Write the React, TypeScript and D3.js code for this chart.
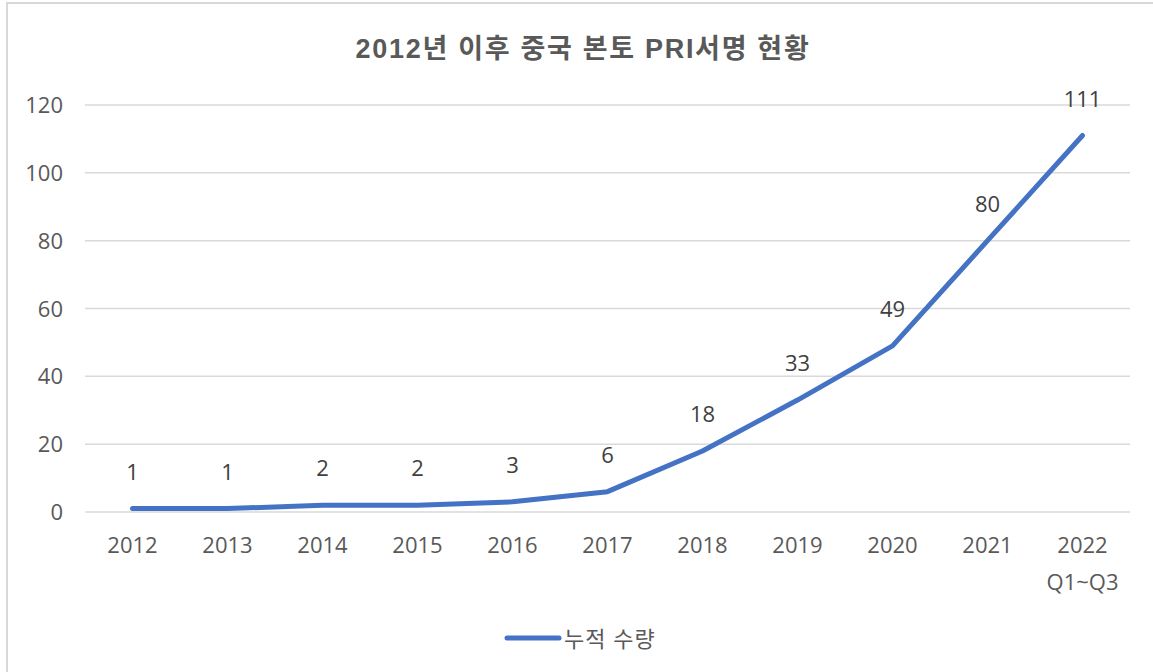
import { useRef, useEffect } from 'react';
import * as d3 from 'd3';

const years = ['2012', '2013', '2014', '2015', '2016', '2017', '2018', '2019', '2020', '2021', '2022'];
const subLabels = ['', '', '', '', '', '', '', '', '', '', 'Q1~Q3'];
const counts = [1, 1, 2, 2, 3, 6, 18, 33, 49, 80, 111];
const yTicks = [0, 20, 40, 60, 80, 100, 120];
const title = '2012년 이후 중국 본토 PRI서명 현황';
const seriesName = '누적 수량';

export default function App() {
  const svgRef = useRef<SVGSVGElement>(null);
  const width = 1153;
  const height = 672;

  useEffect(() => {
    const svg = d3.select(svgRef.current);
    svg.selectAll('*').remove();

    const font = "'Open Sans', 'Noto Sans CJK KR', sans-serif";
    const fs = 22;

    // chart frame
    svg.append('rect')
      .attr('x', 7).attr('y', 3)
      .attr('width', 1160).attr('height', 690)
      .attr('fill', '#fff')
      .attr('stroke', '#d9d9d9')
      .attr('stroke-width', 2);

    const x = d3.scaleBand().domain(years).range([85, 1130]);
    const y = d3.scaleLinear().domain([0, 120]).range([512, 105]);
    const cx = (i: number) => x(years[i])! + x.bandwidth() / 2;

    // title
    svg.append('text')
      .attr('x', 583).attr('y', 58)
      .attr('text-anchor', 'middle')
      .attr('font-family', "'Liberation Sans', 'Noto Sans CJK KR', sans-serif")
      .attr('font-weight', 'bold')
      .attr('font-size', 27)
      .attr('letter-spacing', 1.7)
      .attr('fill', '#595959')
      .text(title);

    // gridlines
    svg.append('g')
      .selectAll('line')
      .data(yTicks)
      .enter()
      .append('line')
      .attr('x1', 85).attr('x2', 1130)
      .attr('y1', d => y(d)).attr('y2', d => y(d))
      .attr('stroke', '#d9d9d9')
      .attr('stroke-width', 1.5);

    // y labels
    svg.append('g')
      .selectAll('text')
      .data(yTicks)
      .enter()
      .append('text')
      .attr('x', 63)
      .attr('y', d => y(d) + 8)
      .attr('text-anchor', 'end')
      .attr('font-family', font)
      .attr('font-size', fs)
      .attr('fill', '#595959')
      .text(d => d);

    // x labels
    svg.append('g')
      .selectAll('text')
      .data(years)
      .enter()
      .append('text')
      .attr('x', (d, i) => cx(i))
      .attr('y', 553)
      .attr('text-anchor', 'middle')
      .attr('font-family', font)
      .attr('font-size', fs)
      .attr('fill', '#595959')
      .text(d => d);

    svg.append('g')
      .selectAll('text')
      .data(subLabels)
      .enter()
      .append('text')
      .attr('x', (d, i) => cx(i))
      .attr('y', 590)
      .attr('text-anchor', 'middle')
      .attr('font-family', font)
      .attr('font-size', fs)
      .attr('fill', '#595959')
      .text(d => d);

    // line
    const line = d3.line<number>()
      .x((d, i) => cx(i))
      .y(d => y(d));

    svg.append('path')
      .datum(counts)
      .attr('d', line)
      .attr('fill', 'none')
      .attr('stroke', '#4472C4')
      .attr('stroke-width', 5)
      .attr('stroke-linecap', 'round')
      .attr('stroke-linejoin', 'round');

    // data labels
    svg.append('g')
      .selectAll('text')
      .data(counts)
      .enter()
      .append('text')
      .attr('x', (d, i) => cx(i))
      .attr('y', d => y(d) - 29)
      .attr('text-anchor', 'middle')
      .attr('font-family', font)
      .attr('font-size', fs)
      .attr('fill', '#404040')
      .text(d => d);

    // legend
    svg.append('line')
      .attr('x1', 507).attr('x2', 559)
      .attr('y1', 638).attr('y2', 638)
      .attr('stroke', '#4472C4')
      .attr('stroke-width', 5)
      .attr('stroke-linecap', 'round');
    svg.append('text')
      .attr('x', 564).attr('y', 647)
      .attr('font-family', font)
      .attr('font-size', fs)
      .attr('letter-spacing', 1)
      .attr('fill', '#595959')
      .text(seriesName);
  }, []);

  return (
    <svg ref={svgRef} width={width} height={height}
      style={{ position: 'absolute', left: 0, top: 0 }}></svg>
  );
}
